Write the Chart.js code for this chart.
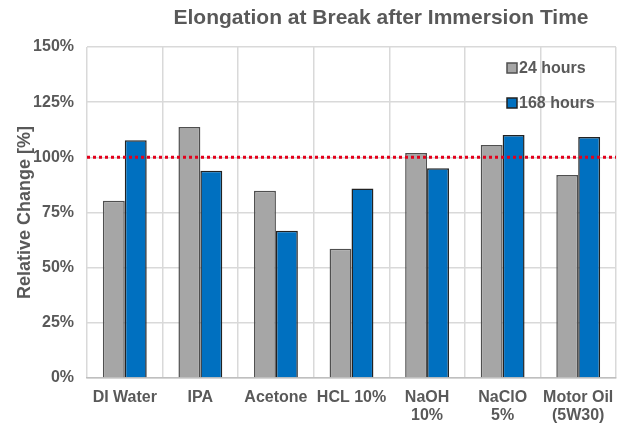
<!DOCTYPE html>
<html>
<head>
<meta charset="utf-8">
<script src="https://cdn.jsdelivr.net/npm/chart.js@4"></script>
<style>
  html, body { margin: 0; padding: 0; background: #fff; }
  #wrap { width: 626px; height: 423px; }
</style>
</head>
<body>
<div id="wrap"><canvas id="chart" width="626" height="423"></canvas></div>
<script>
const categories = ["DI Water", "IPA", "Acetone", "HCL 10%", ["NaOH", "10%"], ["NaClO", "5%"], ["Motor Oil", "(5W30)"]];
const hours24 = [80.3, 113.7, 84.8, 58.6, 102, 105.6, 92];
const hours168 = [107.7, 93.9, 66.7, 85.9, 95, 110.1, 109.2];
const yTicks = [0, 25, 50, 75, 100, 125, 150];
const referenceLevel = 100;

const textGray = "#595959";
const fontName = "'Liberation Sans', Arial, sans-serif";

const extras = {
  id: "extras",
  afterDatasetsDraw(chart) {
    const ctx = chart.ctx;
    const area = chart.chartArea;
    const y = chart.scales.y.getPixelForValue(referenceLevel);
    ctx.save();
    ctx.strokeStyle = "#E3001B";
    ctx.lineWidth = 3;
    ctx.setLineDash([3, 3]);
    ctx.beginPath();
    ctx.moveTo(area.left, y);
    ctx.lineTo(area.right, y);
    ctx.stroke();
    ctx.restore();
  },
  afterDraw(chart) {
    const ctx = chart.ctx;
    ctx.save();
    // title
    ctx.fillStyle = textGray;
    ctx.font = "bold 21px " + fontName;
    ctx.textAlign = "center";
    ctx.textBaseline = "middle";
    ctx.fillText("Elongation at Break after Immersion Time", 381, 18);
    // legend
    ctx.font = "bold 16px " + fontName;
    ctx.textAlign = "left";
    const rows = [68, 103];
    chart.data.datasets.forEach((ds, i) => {
      const yy = rows[i];
      ctx.fillStyle = ds.backgroundColor;
      ctx.strokeStyle = ds.borderColor;
      ctx.lineWidth = 1.5;
      ctx.fillRect(507, yy - 5, 10, 10);
      ctx.strokeRect(507, yy - 5, 10, 10);
      ctx.fillStyle = textGray;
      ctx.fillText(ds.label, 519, yy + 1);
    });
    ctx.restore();
  }
};

new Chart(document.getElementById("chart"), {
  type: "bar",
  data: {
    labels: categories,
    datasets: [
      { label: "24 hours", data: hours24, backgroundColor: "#A6A6A6", borderColor: "#4F4F4F", borderWidth: 1.5 },
      { label: "168 hours", data: hours168, backgroundColor: "#0070C0", borderColor: "#222222", borderWidth: 1.5 }
    ]
  },
  options: {
    responsive: false,
    animation: false,
    layout: { padding: { top: 47, right: 10, left: 0, bottom: 0 } },
    datasets: { bar: { barPercentage: 1, categoryPercentage: 0.58 } },
    plugins: {
      legend: { display: false },
      title: { display: false },
      tooltip: { enabled: false }
    },
    scales: {
      x: {
        grid: { offset: true, color: "#D9D9D9", lineWidth: 1.5, drawTicks: false },
        border: { color: "#BFBFBF", width: 1.5 },
        ticks: {
          color: textGray, font: { family: fontName, size: 16, weight: "bold", lineHeight: 1.15 },
          padding: 10, maxRotation: 0, autoSkip: false
        },
        afterFit(scale) { scale.height = 45; }
      },
      y: {
        min: 0, max: 150,
        afterBuildTicks(scale) { scale.ticks = yTicks.map(v => ({ value: v })); },
        grid: { color: "#D9D9D9", lineWidth: 1.5, drawTicks: false },
        border: { display: false },
        ticks: {
          color: textGray, font: { family: fontName, size: 16, weight: "bold" },
          padding: 13,
          callback: v => v + "%"
        },
        title: {
          display: true, text: "Relative Change [%]", color: textGray,
          font: { family: fontName, size: 18, weight: "bold" }, padding: { top: 14, bottom: 4 }
        },
        afterFit(scale) { scale.width = 87; }
      }
    }
  },
  plugins: [extras]
});
</script>
</body>
</html>
